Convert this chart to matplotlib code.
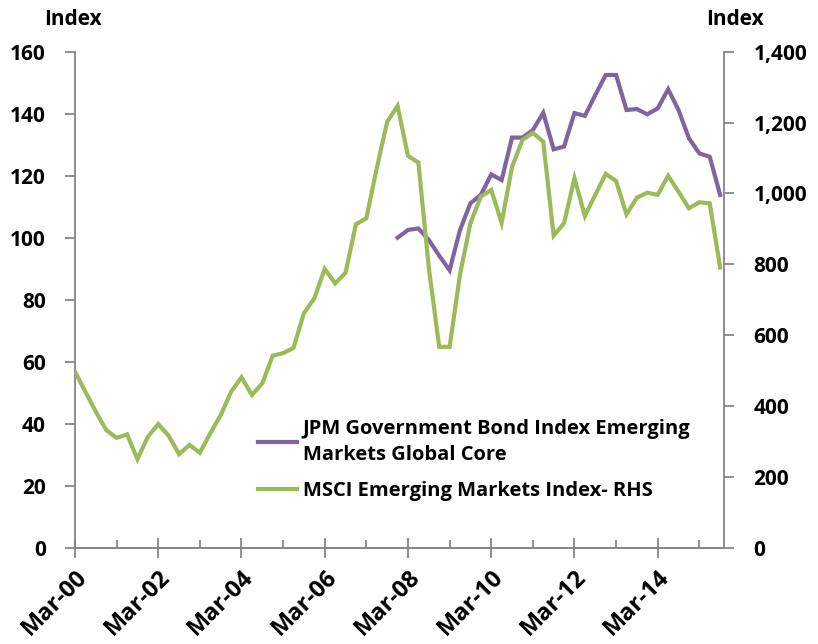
import numpy as np
import matplotlib.pyplot as plt
from matplotlib.ticker import FixedLocator, FuncFormatter

plt.rcParams['font.family'] = ['Open Sans', 'DejaVu Sans']
plt.rcParams['font.weight'] = 'bold'

# quarterly, Mar-00 .. Sep-15
quarters = np.arange(63)
tick_labels = ['Mar-00', 'Mar-02', 'Mar-04', 'Mar-06', 'Mar-08', 'Mar-10', 'Mar-12', 'Mar-14']

msci_em = [497, 440, 384, 332, 310, 320, 250, 313, 349, 316, 264, 290, 268, 323, 374, 440,
           481, 431, 464, 542, 549, 564, 662, 704, 787, 746, 776, 913, 930, 1071, 1202, 1247,
           1106, 1087, 791, 567, 567, 771, 916, 991, 1010, 917, 1075, 1151, 1171, 1146, 881, 916,
           1043, 936, 996, 1055, 1035, 941, 988, 1002, 996, 1050, 1005, 958, 975, 972, 791]

# JPM GBI-EM starts Dec-07 (quarter 31)
gbi_start = 31
gbi_em = [100.0, 102.5, 103.0, 99.3, 94.2, 89.5, 102.5, 111.1, 113.8, 120.4, 118.6, 132.3,
          132.3, 134.7, 140.3, 128.5, 129.4, 140.2, 139.3, 146.0, 152.5, 152.5, 141.2, 141.5,
          139.8, 141.7, 147.9, 141.2, 132.1, 127.2, 126.1, 113.8]

purple = '#8064A2'
green = '#9BBB59'
axis_col = '#868686'

fig = plt.figure(figsize=(8.18, 6.44), dpi=100)
ax = fig.add_axes([75 / 818, 96.3 / 644, 649.3 / 818, 496 / 644])
ax2 = ax.twinx()

x_gbi = quarters[gbi_start:gbi_start + len(gbi_em)]
l1, = ax.plot(x_gbi, gbi_em, color=purple, lw=3, solid_joinstyle='miter',
              label='JPM Government Bond Index Emerging\nMarkets Global Core')
l2, = ax2.plot(quarters, msci_em, color=green, lw=3, solid_joinstyle='miter',
               label='MSCI Emerging Markets Index- RHS')

ax.set_xlim(0, 62.4)
ax.set_ylim(0, 160)
ax2.set_ylim(0, 1400)
ax.set_yticks(np.arange(0, 161, 20))
ax2.set_yticks(np.arange(0, 1401, 200))
ax2.yaxis.set_major_formatter(FuncFormatter(lambda v, p: f'{int(v):,}'))

ax.xaxis.set_major_locator(FixedLocator(np.arange(0, 57, 8)))
ax.xaxis.set_minor_locator(FixedLocator(np.arange(4, 61, 8)))
ax.set_xticklabels(tick_labels, rotation=45, ha='right', rotation_mode='anchor')

for a in (ax, ax2):
    a.spines['top'].set_visible(False)
    for s in ('left', 'right', 'bottom'):
        a.spines[s].set_color(axis_col)
        a.spines[s].set_linewidth(1.3)
ax.spines['right'].set_visible(False)
ax2.spines['left'].set_visible(False)

ax.tick_params(axis='y', direction='out', length=7, width=1.3, color=axis_col,
               labelsize=15, pad=14)
ax2.tick_params(axis='y', direction='out', length=7, width=1.3, color=axis_col,
                labelsize=15, pad=14)
ax.tick_params(axis='x', which='major', direction='inout', length=15, width=1.3,
               color=axis_col, labelsize=17, pad=5)
ax.tick_params(axis='x', which='minor', direction='in', length=6, width=1.3, color=axis_col)

fig.text(73 / 818, 1 - 25 / 644, 'Index', ha='center', va='baseline', fontsize=15, fontweight='bold')
fig.text(735 / 818, 1 - 25 / 644, 'Index', ha='center', va='baseline', fontsize=15, fontweight='bold')

leg = ax2.legend(handles=[l1, l2], loc='upper left', bbox_to_anchor=(0.27, 0.275),
                 frameon=False, fontsize=14.5, handlelength=1.9, handletextpad=0.3,
                 labelspacing=0.8, borderaxespad=0)
for t in leg.get_texts():
    t.set_linespacing(1.35)

fig.savefig('out.png', dpi=100)
